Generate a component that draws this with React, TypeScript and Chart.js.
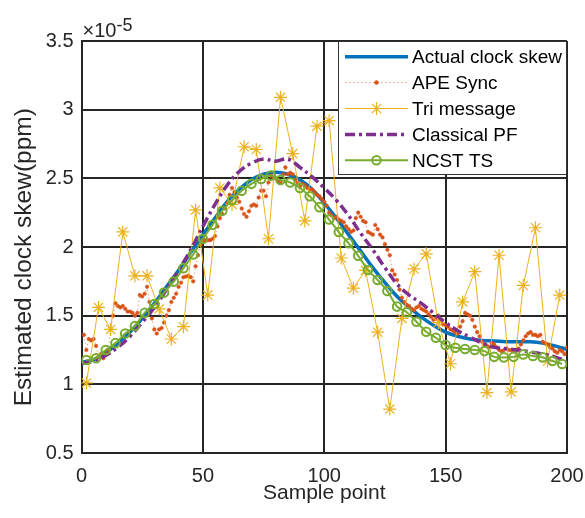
import React, { useEffect, useRef } from 'react';
import { Chart, registerables } from 'chart.js';

Chart.register(...registerables);

// ---- data (values in units of 1e-5) ----
const xTickValues = [0, 50, 100, 150, 200];
const yTickValues = [0.5, 1, 1.5, 2, 2.5, 3, 3.5];
const exponentLabel = '×10';
const exponentPower = '-5';
const xTitle = 'Sample point';
const yTitle = 'Estimated clock skew(ppm)';
const seriesNames = ['Actual clock skew', 'APE Sync', 'Tri message', 'Classical PF', 'NCST TS'];

// Actual clock skew, samples 0,5,...,200
const actualSamples = [0, 5, 10, 15, 20, 25, 30, 35, 40, 45, 50, 55, 60, 65, 70, 75, 80, 85, 90, 95, 100, 105, 110, 115, 120, 125, 130, 135, 140, 145, 150, 155, 160, 165, 170, 175, 180, 185, 190, 195, 200];
const actualSkew = [1.16, 1.18, 1.23, 1.30, 1.38, 1.48, 1.59, 1.71, 1.83, 1.96, 2.09, 2.21, 2.33, 2.42, 2.49, 2.53, 2.545, 2.53, 2.49, 2.42, 2.32, 2.21, 2.09, 1.97, 1.85, 1.74, 1.64, 1.56, 1.49, 1.43, 1.38, 1.35, 1.33, 1.32, 1.315, 1.31, 1.31, 1.31, 1.30, 1.28, 1.255];

// Classical PF, same samples as actual
const classicalPF = [1.15, 1.17, 1.21, 1.27, 1.35, 1.45, 1.56, 1.69, 1.83, 1.98, 2.15, 2.31, 2.45, 2.55, 2.61, 2.64, 2.625, 2.64, 2.58, 2.51, 2.43, 2.34, 2.23, 2.10, 1.98, 1.85, 1.73, 1.65, 1.59, 1.52, 1.45, 1.39, 1.345, 1.30, 1.27, 1.26, 1.25, 1.235, 1.22, 1.20, 1.165];

// APE Sync, samples 1..200
const apeSync = [
  1.36, 1.25, 1.33, 1.32, 1.33, 1.28, 1.20, 1.22, 1.19, 1.22,
  1.25, 1.40, 1.50, 1.59, 1.57, 1.56, 1.57, 1.55, 1.53, 1.53,
  1.52, 1.50, 1.52, 1.65, 1.64, 1.66, 1.71, 1.60, 1.48, 1.40,
  1.37, 1.40, 1.41, 1.45, 1.50, 1.54, 1.60, 1.63, 1.66, 1.71,
  1.74, 1.78, 1.785, 1.79, 1.78, 1.75, 1.86, 1.94, 2.02, 2.04,
  2.05, 2.05, 2.05, 2.06, 2.08, 2.15, 2.21, 2.24, 2.28, 2.32,
  2.38, 2.43, 2.40, 2.36, 2.33, 2.28, 2.24, 2.22, 2.26, 2.30,
  2.31, 2.30, 2.36, 2.41, 2.41, 2.37, 2.47, 2.52, 2.51, 2.50,
  2.48, 2.47, 2.53, 2.58, 2.53, 2.54, 2.53, 2.49, 2.47, 2.44,
  2.46, 2.45, 2.43, 2.42, 2.42, 2.40, 2.38, 2.37, 2.35, 2.33,
  2.30, 2.25, 2.23, 2.21, 2.22, 2.20, 2.19, 2.18, 2.15, 2.13,
  2.11, 2.12, 2.21, 2.25, 2.22, 2.19, 2.18, 2.11, 2.10, 2.09,
  2.16, 2.13, 2.09, 2.07, 2.02, 1.98, 1.94, 1.83, 1.80, 1.76,
  1.69, 1.63, 1.60, 1.58, 1.57, 1.55, 1.54, 1.56, 1.57, 1.55,
  1.54, 1.53, 1.51, 1.49, 1.47, 1.48, 1.50, 1.47, 1.44, 1.43,
  1.42, 1.40, 1.39, 1.38, 1.37, 1.42, 1.46, 1.52, 1.51, 1.50,
  1.47, 1.42, 1.38, 1.35, 1.31, 1.29, 1.28, 1.27, 1.30, 1.29,
  1.27, 1.25, 1.24, 1.25, 1.26, 1.25, 1.25, 1.24, 1.24, 1.26,
  1.29, 1.32, 1.35, 1.37, 1.38, 1.36, 1.36, 1.35, 1.36, 1.31,
  1.30, 1.29, 1.27, 1.26, 1.24, 1.23, 1.25, 1.24, 1.22, 1.27,
];

// Tri message, samples 2,7,...,197
const triSamples = [2, 7, 12, 17, 22, 27, 32, 37, 42, 47, 52, 57, 62, 67, 72, 77, 82, 87, 92, 97, 102, 107, 112, 117, 122, 127, 132, 137, 142, 147, 152, 157, 162, 167, 172, 177, 182, 187, 192, 197];
const triMessage = [1.01, 1.56, 1.40, 2.11, 1.79, 1.79, 1.55, 1.33, 1.42, 2.27, 1.65, 2.43, 2.31, 2.73, 2.71, 2.06, 3.09, 2.68, 2.19, 2.88, 2.92, 1.92, 1.70, 1.83, 1.38, 0.82, 1.48, 1.84, 1.95, 1.45, 1.15, 1.60, 1.82, 0.94, 1.94, 0.945, 1.72, 2.14, 1.17, 1.65];

// NCST TS, samples 2,6,...,198
const ncstSamples = [2, 6, 10, 14, 18, 22, 26, 30, 34, 38, 42, 46, 50, 54, 58, 62, 66, 70, 74, 78, 82, 86, 90, 94, 98, 102, 106, 110, 114, 118, 122, 126, 130, 134, 138, 142, 146, 150, 154, 158, 162, 166, 170, 174, 178, 182, 186, 190, 194, 198];
const ncstTS = [1.177, 1.19, 1.25, 1.30, 1.37, 1.425, 1.52, 1.585, 1.668, 1.748, 1.846, 1.945, 2.058, 2.162, 2.264, 2.34, 2.41, 2.46, 2.495, 2.52, 2.488, 2.47, 2.43, 2.37, 2.29, 2.20, 2.109, 2.028, 1.936, 1.833, 1.76, 1.68, 1.566, 1.525, 1.456, 1.383, 1.339, 1.286, 1.266, 1.257, 1.25, 1.242, 1.20, 1.196, 1.20, 1.218, 1.206, 1.196, 1.17, 1.148];

// ---- styling ----
const FONT = '"Liberation Sans", Arial, Helvetica, sans-serif';
const AXIS = '#262626';
const BLUE = '#0072BD';
const ORANGE = '#D95319';
const YELLOW = '#EDB120';
const PURPLE = '#7E2F8E';
const GREEN = '#77AC30';

const pts = (xs: number[], ys: number[]) => ys.map((y, i) => ({ x: xs[i], y }));
const apeSamples = apeSync.map((_, i) => i + 1);

function drawMarker(ctx: CanvasRenderingContext2D, style: string, x: number, y: number, r: number, ds: any) {
  ctx.save();
  ctx.setLineDash([]);
  if (style === 'star') {
    ctx.strokeStyle = ds.pointBorderColor;
    ctx.lineWidth = ds.pointBorderWidth;
    ctx.beginPath();
    ctx.moveTo(x - r, y); ctx.lineTo(x + r, y);
    ctx.moveTo(x, y - r); ctx.lineTo(x, y + r);
    const d = r * Math.SQRT1_2;
    ctx.moveTo(x - d, y - d); ctx.lineTo(x + d, y + d);
    ctx.moveTo(x - d, y + d); ctx.lineTo(x + d, y - d);
    ctx.stroke();
  } else if (style === 'circle') {
    ctx.beginPath();
    ctx.arc(x, y, r, 0, Math.PI * 2);
    if (ds.pointBackgroundColor && ds.pointBackgroundColor !== 'transparent') {
      ctx.fillStyle = ds.pointBackgroundColor;
      ctx.fill();
    }
    ctx.strokeStyle = ds.pointBorderColor;
    ctx.lineWidth = ds.pointBorderWidth;
    ctx.stroke();
  }
  ctx.restore();
}

const overlayPlugin = {
  id: 'overlay',
  afterDraw(chart: any) {
    const ctx: CanvasRenderingContext2D = chart.ctx;
    const area = chart.chartArea;
    ctx.save();
    // exponent label
    ctx.fillStyle = AXIS;
    ctx.textBaseline = 'alphabetic';
    ctx.textAlign = 'left';
    ctx.font = `20px ${FONT}`;
    ctx.fillText(exponentLabel, area.left + 1, area.top - 4);
    const w = ctx.measureText(exponentLabel).width;
    ctx.font = `18px ${FONT}`;
    ctx.fillText(exponentPower, area.left + 1 + w, area.top - 10);

    // legend box
    const bw = 229, bh = 134;
    const bx = area.right - bw, by = area.top;
    ctx.fillStyle = '#ffffff';
    ctx.fillRect(bx, by, bw, bh);
    ctx.strokeStyle = '#333333';
    ctx.lineWidth = 1;
    ctx.strokeRect(bx + 0.5, by + 0.5, bw - 1, bh - 1);

    const datasets = chart.data.datasets;
    datasets.forEach((ds: any, i: number) => {
      const cy = by + 15.7 + i * 25.9;
      const x0 = bx + 7, x1 = bx + 70;
      ctx.save();
      ctx.strokeStyle = ds.borderColor;
      ctx.lineWidth = ds.borderWidth;
      ctx.setLineDash(ds.borderDash || []);
      ctx.beginPath();
      ctx.moveTo(x0, cy);
      ctx.lineTo(x1, cy);
      ctx.stroke();
      ctx.restore();
      const mx = (x0 + x1) / 2;
      if (ds.legendMarker) drawMarker(ctx, ds.pointStyle, mx, cy, ds.legendMarker, ds);
      ctx.fillStyle = '#000000';
      ctx.font = `19px ${FONT}`;
      ctx.textBaseline = 'middle';
      ctx.textAlign = 'left';
      ctx.fillText(ds.label, bx + 74, cy + 1);
    });
    ctx.restore();
  },
};

export default function App() {
  const ref = useRef<HTMLCanvasElement>(null);
  useEffect(() => {
    document.body.style.margin = '0';
    const canvas = ref.current!;
    const chart = new Chart(canvas, {
      type: 'line',
      data: {
        datasets: [
          {
            label: seriesNames[0],
            data: pts(actualSamples, actualSkew),
            borderColor: BLUE,
            borderWidth: 3.5,
            pointRadius: 0,
            tension: 0.4,
            order: 5,
          } as any,
          {
            label: seriesNames[1],
            data: pts(apeSamples, apeSync),
            borderColor: 'rgba(217,83,25,0.55)',
            borderWidth: 1,
            borderDash: [1.5, 2.5],
            pointStyle: 'circle',
            pointRadius: 1.8,
            pointBackgroundColor: ORANGE,
            pointBorderColor: ORANGE,
            pointBorderWidth: 0.5,
            legendMarker: 2,
            tension: 0,
            order: 4,
          } as any,
          {
            label: seriesNames[2],
            data: pts(triSamples, triMessage),
            borderColor: YELLOW,
            borderWidth: 1,
            pointStyle: 'star',
            pointRadius: 6.5,
            pointBorderColor: YELLOW,
            pointBackgroundColor: YELLOW,
            pointBorderWidth: 1.2,
            legendMarker: 6.5,
            tension: 0,
            order: 3,
          } as any,
          {
            label: seriesNames[3],
            data: pts(actualSamples, classicalPF),
            borderColor: PURPLE,
            borderWidth: 3.5,
            borderDash: [10, 4, 3, 4],
            pointRadius: 0,
            tension: 0.4,
            order: 2,
          } as any,
          {
            label: seriesNames[4],
            data: pts(ncstSamples, ncstTS),
            borderColor: GREEN,
            borderWidth: 2,
            pointStyle: 'circle',
            pointRadius: 4.3,
            pointBackgroundColor: 'transparent',
            pointBorderColor: GREEN,
            pointBorderWidth: 2,
            legendMarker: 4.3,
            tension: 0.3,
            order: 1,
          } as any,
        ],
      },
      options: {
        responsive: false,
        animation: false,
        devicePixelRatio: 1,
        events: [],
        layout: { padding: { left: 0, right: 18, top: 41, bottom: 0 } },
        plugins: {
          legend: { display: false },
          tooltip: { enabled: false },
        },
        scales: {
          x: {
            type: 'linear',
            min: 0,
            max: 200,
            afterBuildTicks: (s: any) => {
              s.ticks = xTickValues.map((v) => ({ value: v }));
            },
            afterFit: (s: any) => {
              s.height = 65;
              s.paddingLeft = 0;
              s.paddingRight = 0;
            },
            grid: { color: AXIS, lineWidth: 2, drawTicks: false },
            border: { color: AXIS, width: 2 },
            ticks: {
              padding: 11,
              color: AXIS,
              maxRotation: 0,
              font: { family: FONT, size: 20 },
              callback: (v: any) => `${v}`,
            },
            title: {
              display: true,
              text: xTitle,
              color: AXIS,
              font: { family: FONT, size: 21 },
              padding: { top: 0, bottom: 12 },
            },
          },
          y: {
            type: 'linear',
            min: 0.5,
            max: 3.5,
            afterBuildTicks: (s: any) => {
              s.ticks = yTickValues.map((v) => ({ value: v }));
            },
            afterFit: (s: any) => {
              s.width = 81.5;
              s.paddingTop = 0;
              s.paddingBottom = 0;
            },
            grid: { color: AXIS, lineWidth: 2, drawTicks: false },
            border: { color: AXIS, width: 2 },
            ticks: {
              padding: 8,
              color: AXIS,
              font: { family: FONT, size: 20 },
              callback: (v: any) => `${v}`,
            },
            title: {
              display: true,
              text: yTitle + '   ',
              color: AXIS,
              font: { family: FONT, size: 24.5 },
              padding: { top: 10, bottom: 0 },
            },
          },
        },
      } as any,
      plugins: [overlayPlugin],
    });
    return () => chart.destroy();
  }, []);
  return <canvas ref={ref} width={585} height={518} style={{ display: 'block', width: 585, height: 518 }} />;
}
